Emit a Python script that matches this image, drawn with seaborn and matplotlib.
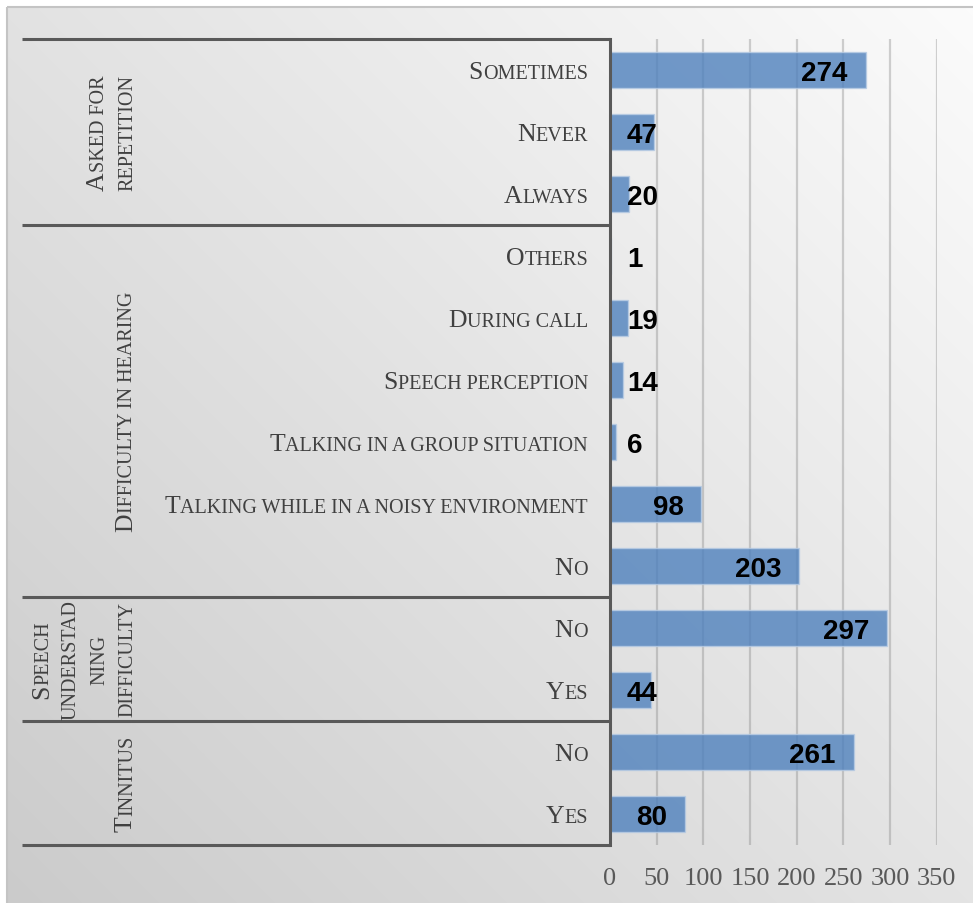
import numpy as np
import pandas as pd
import matplotlib
matplotlib.use("Agg")
import matplotlib.pyplot as plt
import seaborn as sns
from matplotlib import transforms as mtransforms
from matplotlib.lines import Line2D
from matplotlib.patches import Rectangle

# ---- data (top to bottom) ----
groups = ["Asked for\nrepetition", "Difficulty in hearing",
          "Speech\nunderstad\nning\ndifficulty", "Tinnitus"]
group_sizes = [3, 6, 2, 2]
categories = ["Sometimes", "Never", "Always",
              "Others", "During call", "Speech perception",
              "Talking in a group situation",
              "Talking while in a noisy environment", "No",
              "No", "Yes",
              "No", "Yes"]
counts = [274, 47, 20, 1, 19, 14, 6, 98, 203, 297, 44, 261, 80]
x_ticks = [0, 50, 100, 150, 200, 250, 300, 350]

group_col = np.repeat(groups, group_sizes)
df = pd.DataFrame({"group": group_col, "category": categories, "count": counts})
df["row"] = [f"{i}_{c}" for i, c in enumerate(categories)]

W, H = 973, 904
SERIF = "Liberation Serif"
SANS = "Liberation Sans"
TXT = "#404040"
LINE = "#595959"
BIG, SMALL = 18.5, 14.5

sns.set_theme(style="white")
fig = plt.figure(figsize=(W / 100, H / 100), dpi=100)
fig.patch.set_facecolor("white")

# background gradient panel
bg = fig.add_axes([0, 0, 1, 1], zorder=-10)
bg.set_xlim(0, W)
bg.set_ylim(H, 0)
bg.axis("off")
gx, gy = np.meshgrid(np.linspace(7, W, 200), np.linspace(8, H, 200))
t = ((W - gx) + (gy - 8)) / (W + H)
gray = 0.985 - 0.19 * t
bg.imshow(np.dstack([gray, gray, gray]), extent=(7, W + 2, H + 2, 8),
          aspect="auto", interpolation="bilinear")
bg.add_patch(Rectangle((7, 8), W, H, fill=False, ec="#c4c4c4", lw=1.5))

# main plot area
ax = fig.add_axes([610 / W, (H - 846) / H, (936.7 - 610) / W, (846 - 40) / H])
ax.patch.set_alpha(0)
sns.barplot(data=df, x="count", y="row", orient="h", color="#4f81bd",
            saturation=1, alpha=0.8, width=0.57, edgecolor="#b8cce4",
            linewidth=1, ax=ax, zorder=2)
ax.set_xlim(0, 350)
ax.set_ylim(len(categories) - 0.5, -0.5)
ax.set_xticks(x_ticks)
ax.grid(axis="x", color="#7f7f7f", alpha=0.35, lw=1.6)
ax.grid(axis="y", visible=False)
ax.set_axisbelow(True)
ax.set_xlabel("")
ax.set_ylabel("")
ax.tick_params(axis="y", left=False, labelleft=False)
ax.tick_params(axis="x", length=0, pad=16, labelsize=19, labelcolor=LINE)
for lbl in ax.get_xticklabels():
    lbl.set_fontfamily(SERIF)
for s in ["top", "right", "bottom"]:
    ax.spines[s].set_visible(False)
ax.spines["left"].set_color(LINE)
ax.spines["left"].set_linewidth(2.2)

# value labels
for i, v in enumerate(counts):
    if v > 70:
        tr = mtransforms.offset_copy(ax.transData, fig, x=-18, y=-10, units="dots")
        ax.text(v, i, str(v), ha="right", va="baseline", transform=tr,
                fontsize=20, fontweight="bold", family=SANS, color="black", zorder=5)
    else:
        tr = mtransforms.offset_copy(ax.transData, fig, x=17, y=-10, units="dots")
        ax.text(0, i, str(v), ha="left", va="baseline", transform=tr,
                fontsize=20, fontweight="bold", family=SANS, color="black", zorder=5)

# group separator lines
bounds = np.concatenate([[-0.5], np.cumsum(group_sizes) - 0.5])
trans = mtransforms.blended_transform_factory(fig.transFigure, ax.transData)
for b in bounds:
    fig.add_artist(Line2D([22 / W, 610 / W], [b, b], transform=trans,
                          color=LINE, lw=2.2, solid_capstyle="butt"))

# small-caps helpers
renderer = fig.canvas.get_renderer()
ident = mtransforms.IdentityTransform()


def text_w(s, size):
    if not s:
        return 0.0
    tt = fig.text(0, 0, s, fontsize=size, family=SERIF)
    w = tt.get_window_extent(renderer).width
    tt.remove()
    return w


def to_display_y(row):
    return ax.transData.transform((0, row))[1]


# category labels (right aligned, small caps)
for i, cat in enumerate(categories):
    y = to_display_y(i) - 8
    first, rest = cat[0], cat[1:].upper()
    w_rest = text_w(rest, SMALL)
    fig.text(588, y, rest, transform=ident, ha="right", va="baseline",
             fontsize=SMALL, family=SERIF, color=TXT)
    fig.text(588 - w_rest, y, first, transform=ident, ha="right", va="baseline",
             fontsize=BIG, family=SERIF, color=TXT)

# group labels (rotated, small caps)
for g, lo, hi in zip(groups, bounds[:-1], bounds[1:]):
    yc = (to_display_y(lo) + to_display_y(hi)) / 2
    lines = g.split("\n")
    n = len(lines)
    for k, ln in enumerate(lines):
        xk = 132 - (n - 1 - k) * 28
        if k == 0:
            first, rest = ln[0], ln[1:].upper()
        else:
            first, rest = "", ln.upper()
        wf, wr = text_w(first, BIG), text_w(rest, SMALL)
        y0 = yc - (wf + wr) / 2
        if first:
            fig.text(xk, y0, first, transform=ident, rotation=90,
                     rotation_mode="anchor", ha="left", va="baseline",
                     fontsize=BIG, family=SERIF, color=TXT)
        fig.text(xk, y0 + wf, rest, transform=ident, rotation=90,
                 rotation_mode="anchor", ha="left", va="baseline",
                 fontsize=SMALL, family=SERIF, color=TXT)

fig.savefig("out.png", dpi=100)
